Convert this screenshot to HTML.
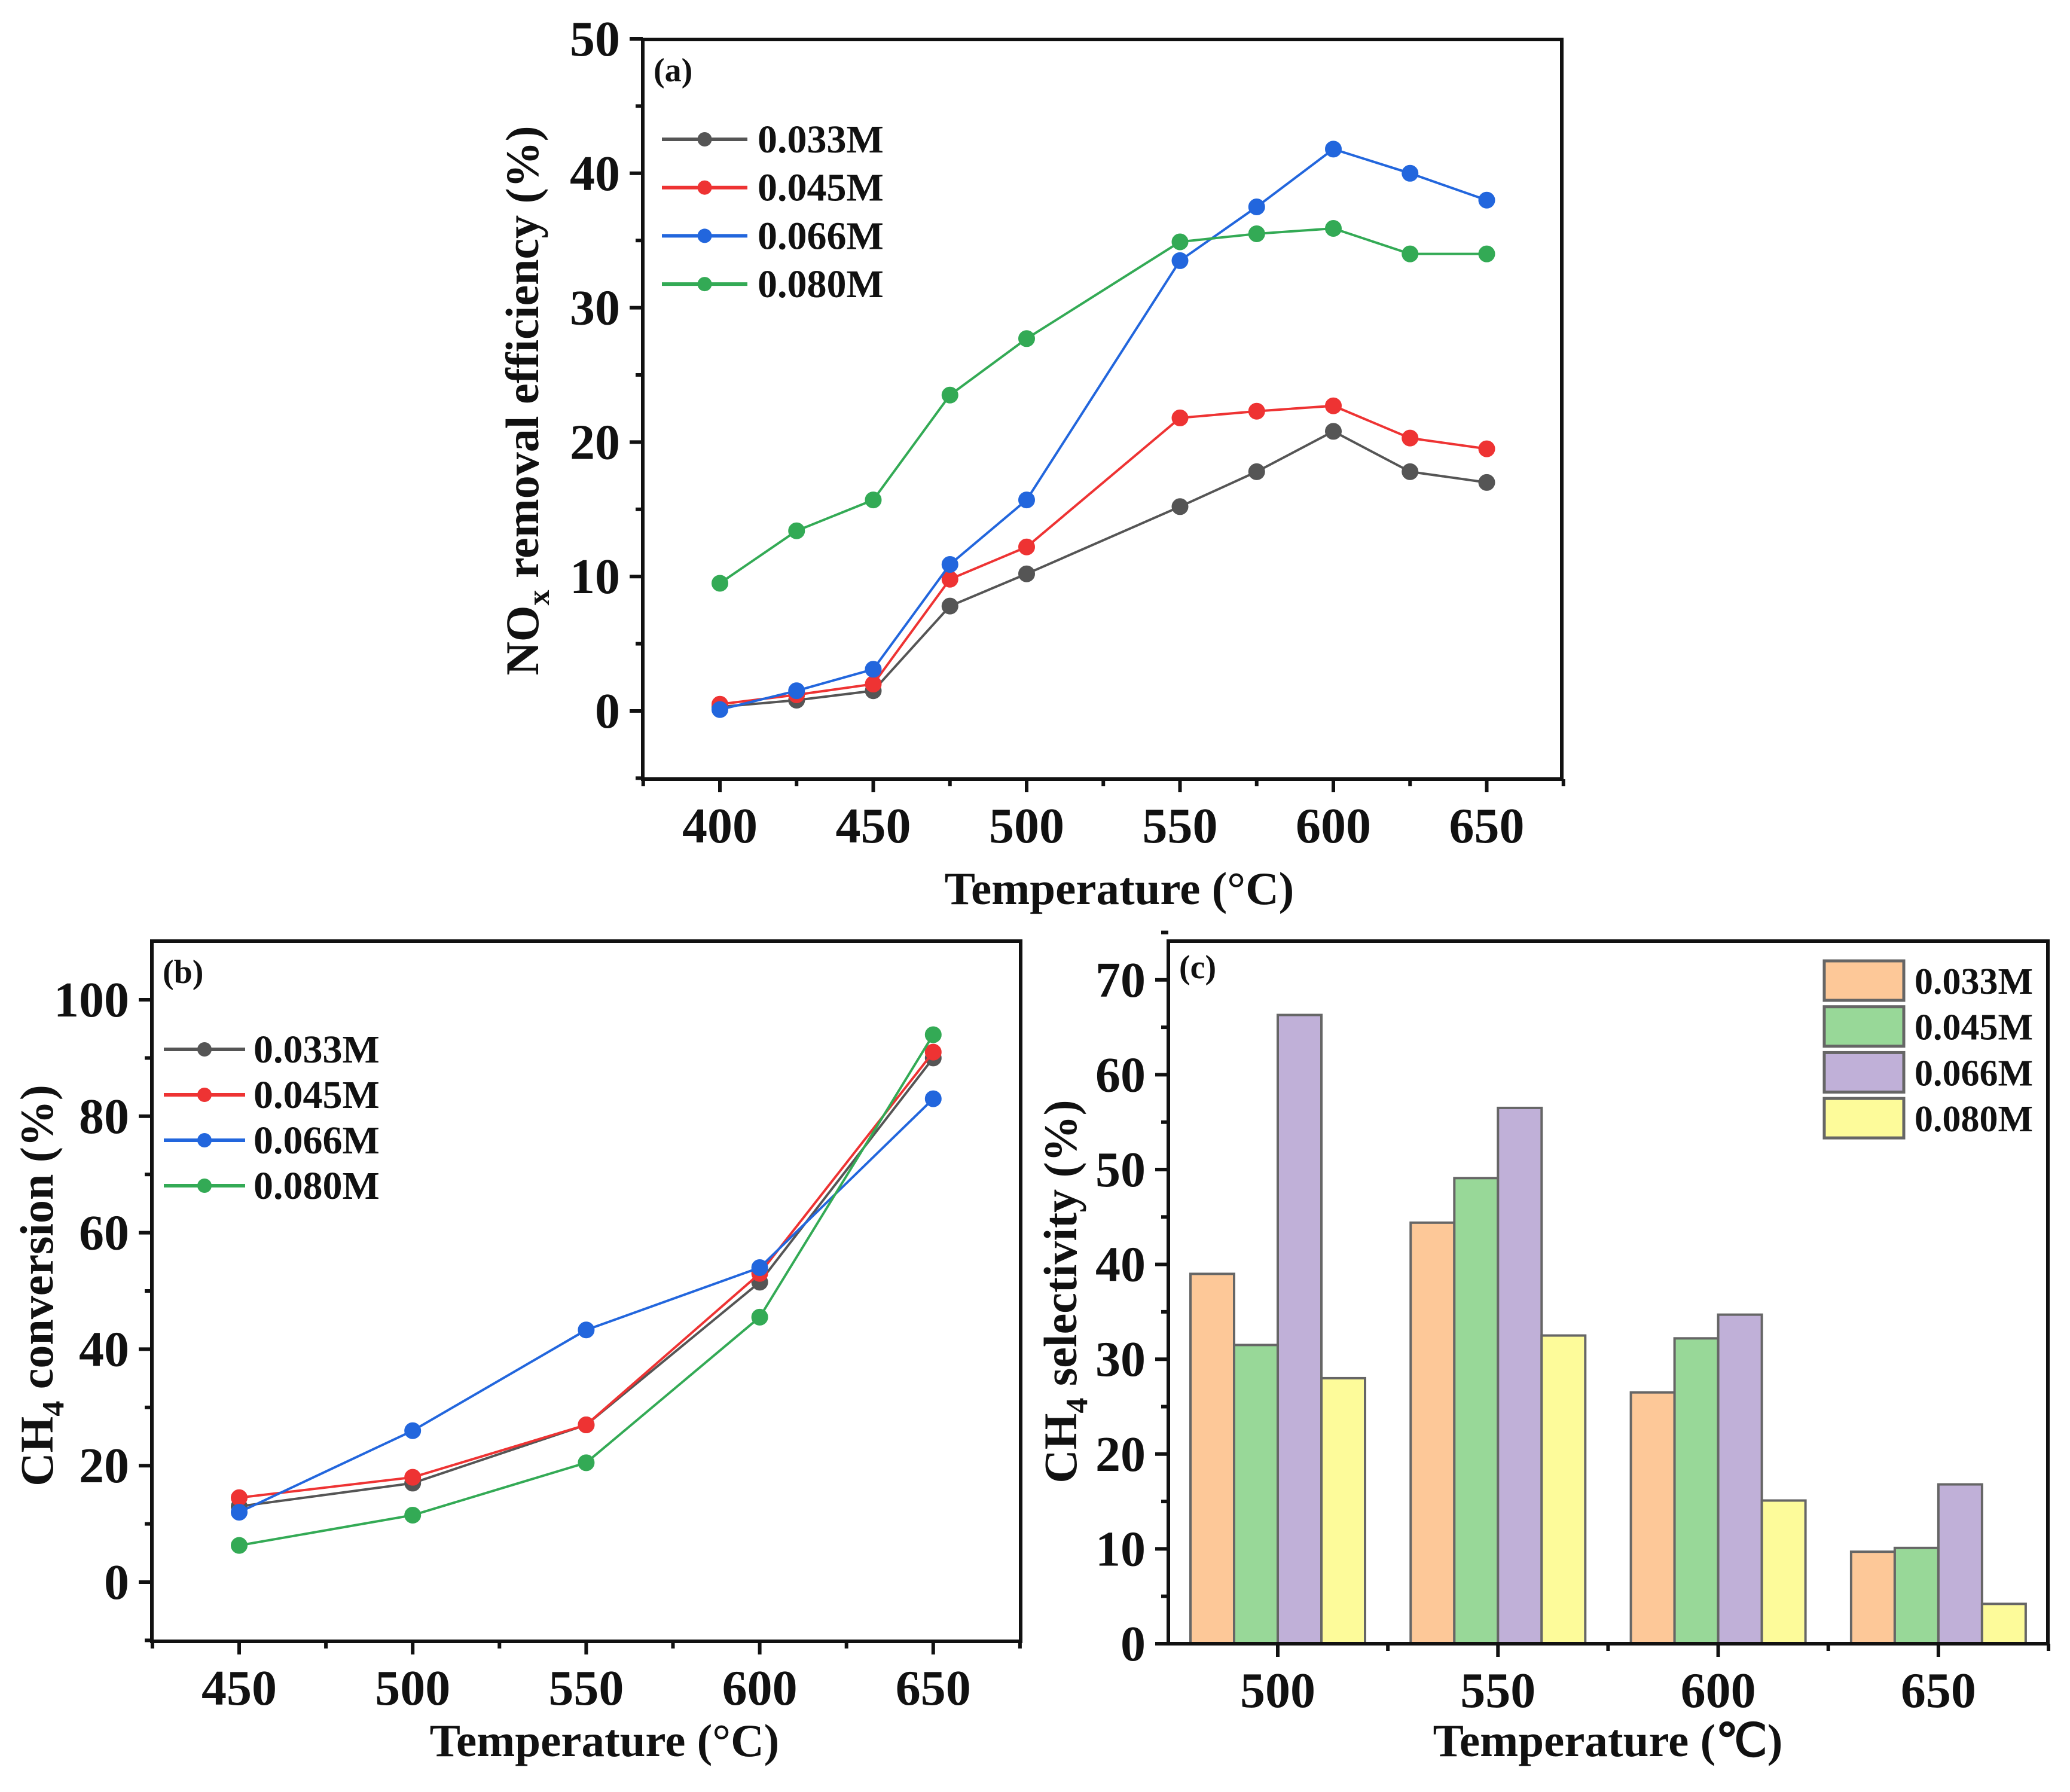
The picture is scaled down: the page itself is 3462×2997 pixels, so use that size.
<!DOCTYPE html>
<html><head><meta charset="utf-8"><style>
html,body{margin:0;padding:0;background:#fff}
svg{display:block}
text{font-family:"Liberation Serif",serif;font-weight:bold;fill:#111}
</style></head><body>
<svg id="fig" width="3462" height="2997" viewBox="0 0 3462 2997" xmlns="http://www.w3.org/2000/svg"></svg>
<script>
// ---- Panel (a) data ----
const aTemps = [400,425,450,475,500,550,575,600,625,650];
const aS033 = [0.3,0.8,1.5,7.8,10.2,15.2,17.8,20.8,17.8,17.0];
const aS045 = [0.5,1.2,2.0,9.8,12.2,21.8,22.3,22.7,20.3,19.5];
const aS066 = [0.1,1.5,3.1,10.9,15.7,33.5,37.5,41.8,40.0,38.0];
const aS080 = [9.5,13.4,15.7,23.5,27.7,34.9,35.5,35.9,34.0,34.0];
const aYTicks = [0,10,20,30,40,50];
const aXTicks = [400,450,500,550,600,650];
// ---- Panel (b) data ----
const bTemps = [450,500,550,600,650];
const bS033 = [13,17,27,51.5,90];
const bS045 = [14.5,18,27,53,91];
const bS066 = [12,26,43.3,54,83];
const bS080 = [6.3,11.5,20.5,45.5,94];
const bYTicks = [0,20,40,60,80,100];
const bXTicks = [450,500,550,600,650];
// ---- Panel (c) data ----
const cTemps = [500,550,600,650];
const c033 = [39,44.4,26.5,9.7];
const c045 = [31.5,49.1,32.2,10.1];
const c066 = [66.3,56.5,34.7,16.8];
const c080 = [28,32.5,15.1,4.2];
const cYTicks = [0,10,20,30,40,50,60,70];
const seriesNames = ['0.033M','0.045M','0.066M','0.080M'];

const NS='http://www.w3.org/2000/svg';
const svg=document.getElementById('fig');
function mk(tag,attrs,parent){const e=document.createElementNS(NS,tag);for(const k in attrs)e.setAttribute(k,attrs[k]);(parent||svg).appendChild(e);return e;}
function txt(s,attrs,parent){const e=mk('text',attrs,parent);e.textContent=s;return e;}

const lineCols=['#555555','#ee3333','#2266dd','#33aa55'];
const barCols=['#fdc898','#98d898','#c0b0d8','#fdfb9a'];

function frame(g,L,T,R,B){
  const r=mk('rect',{x:L,y:T,width:R-L,height:B-T,fill:'none',stroke:'#111','stroke-width':6},g);
  
  
}

function linePanel(id,L,T,R,B,xs,ser,xT,xMin,xStep,yT,yMin,yMax,yMinor,xMinor,leg,tagLbl){
  const g=mk('g',{});
  
  
  const X=v=>xMin.px+(v-xMin.v)*xStep;
  const Y=v=>yMin.px-(v-yMin.v)*yMax;
  frame(g,L,T,R,B);
  yT.forEach(v=>{
    const t=mk('line',{x1:L-22,x2:L,y1:Y(v),y2:Y(v),stroke:'#111','stroke-width':6},g);
    
    
    const l=txt(String(v),{x:L-38,y:Y(v)+28,'text-anchor':'end','font-size':84},g);
    
    
  });
  yMinor.forEach(v=>{const t=mk('line',{x1:L-12,x2:L,y1:Y(v),y2:Y(v),stroke:'#111','stroke-width':6},g);
    
    });
  xT.forEach(v=>{
    const t=mk('line',{x1:X(v),x2:X(v),y1:B,y2:B+22,stroke:'#111','stroke-width':6},g);
    
    
    const l=txt(String(v),{x:X(v),y:B+106,'text-anchor':'middle','font-size':84},g);
    
    
  });
  xMinor.forEach(v=>{const t=mk('line',{x1:X(v),x2:X(v),y1:B,y2:B+12,stroke:'#111','stroke-width':6},g);
    
    });
  ser.forEach((s,i)=>{
    const pts=xs.map((x,j)=>X(x)+','+Y(s[j])).join(' ');
    const p=mk('polyline',{points:pts,fill:'none',stroke:lineCols[i],'stroke-width':4},g);
    
    
    xs.forEach((x,j)=>{const c=mk('circle',{cx:X(x),cy:Y(s[j]),r:13,fill:lineCols[i],stroke:lineCols[i],'stroke-width':2},g);
      
      });
  });
  seriesNames.forEach((n,i)=>{
    const y=leg.y0+i*leg.dy;
    const l=mk('line',{x1:leg.x1,x2:leg.x2,y1:y,y2:y,stroke:lineCols[i],'stroke-width':6},g);
    
    
    const c=mk('circle',{cx:(leg.x1+leg.x2)/2,cy:y,r:12,fill:lineCols[i]},g);
    
    
    const t=txt(n,{x:leg.tx,y:y+22,'font-size':66},g);
    
    
  });
  const tg=txt(tagLbl,{x:L+18,y:T+70,'font-size':56},g);
  
  
  return {g,X,Y};
}

// Panel (a)
const A=linePanel('a',1075,66,2612,1303,aTemps,[aS033,aS045,aS066,aS080],aXTicks,{v:400,px:1204},256.5/50,aYTicks,{v:0,px:1189},22.48,[5,15,25,35,45,-5],[425,475,525,575,625,675,375],
  {x1:1107,x2:1250,tx:1267,y0:233,dy:80.7},'(a)');
let t=txt('Temperature (°C)',{x:1872,y:1512,'text-anchor':'middle','font-size':77},A.g);


t=txt('',{x:0,y:0,'font-size':78,'text-anchor':'middle',transform:'translate(900,670) rotate(-90)'},A.g);
t.innerHTML='NO<tspan font-size="52" dy="18">x</tspan><tspan dy="-18"> removal efficiency (%)</tspan>';



// Panel (b)
const Bp=linePanel('b',254,1574,1707,2745,bTemps,[bS033,bS045,bS066,bS080],bXTicks,{v:450,px:400},290.2/50,bYTicks,{v:0,px:2646},9.74,[10,30,50,70,90,-10],[475,525,575,625,675,425],
  {x1:274,x2:410,tx:424,y0:1755,dy:76},'(b)');
t=txt('Temperature (°C)',{x:1011,y:2937,'text-anchor':'middle','font-size':77},Bp.g);


t=txt('',{x:0,y:0,'font-size':78,'text-anchor':'middle',transform:'translate(88,2150) rotate(-90)'},Bp.g);
t.innerHTML='CH<tspan font-size="52" dy="18">4</tspan><tspan dy="-18"> conversion (%)</tspan>';



// Panel (c)
(function(){
  const L=1954,T=1574,R=3425,B=2749;
  const g=mk('g',{});
  
  
  const X=v=>2137+(v-500)*(368.3/50);
  const Y=v=>2749-v*15.86;
  const bw=73;
  const series=[c033,c045,c066,c080];
  series.forEach((s,i)=>{
    cTemps.forEach((tv,j)=>{
      const x=X(tv)+(i-2)*bw;
      const r=mk('rect',{x:x,y:Y(s[j]),width:bw,height:Y(0)-Y(s[j]),fill:barCols[i],stroke:'#666','stroke-width':4},g);
      
      
    });
  });
  frame(g,L,T,R,B);
  cYTicks.forEach(v=>{
    const tk=mk('line',{x1:L-22,x2:L,y1:Y(v),y2:Y(v),stroke:'#111','stroke-width':6},g);
    
    
    const l=txt(String(v),{x:L-38,y:Y(v)+28,'text-anchor':'end','font-size':84},g);
    
    
    const m=mk('line',{x1:L-12,x2:L,y1:Y(v+5),y2:Y(v+5),stroke:'#111','stroke-width':6},g);
    
    
  });
  cTemps.forEach(v=>{
    const tk=mk('line',{x1:X(v),x2:X(v),y1:B,y2:B+22,stroke:'#111','stroke-width':6},g);
    
    
    const m=mk('line',{x1:X(v+25),x2:X(v+25),y1:B,y2:B+12,stroke:'#111','stroke-width':6},g);
    
    
    const l=txt(String(v),{x:X(v),y:B+106,'text-anchor':'middle','font-size':84},g);
    
    
  });
  seriesNames.forEach((n,i)=>{
    const y=1640+i*76.7;
    const r=mk('rect',{x:3051,y:y-33,width:133,height:66,fill:barCols[i],stroke:'#666','stroke-width':5},g);
    
    
    const tt=txt(n,{x:3202,y:y+22,'font-size':62},g);
    
    
  });
  let tg=txt('(c)',{x:L+18,y:T+62,'font-size':56},g);
  
  
  tg=txt('Temperature (℃)',{x:2689,y:2937,'text-anchor':'middle','font-size':77},g);
  
  
  tg=txt('',{x:0,y:0,'font-size':78,'text-anchor':'middle',transform:'translate(1800,2160) rotate(-90)'},g);
  tg.innerHTML='CH<tspan font-size="52" dy="18">4</tspan><tspan dy="-18"> selectivity (%)</tspan>';
  
  
})();
</script>
</body></html>
